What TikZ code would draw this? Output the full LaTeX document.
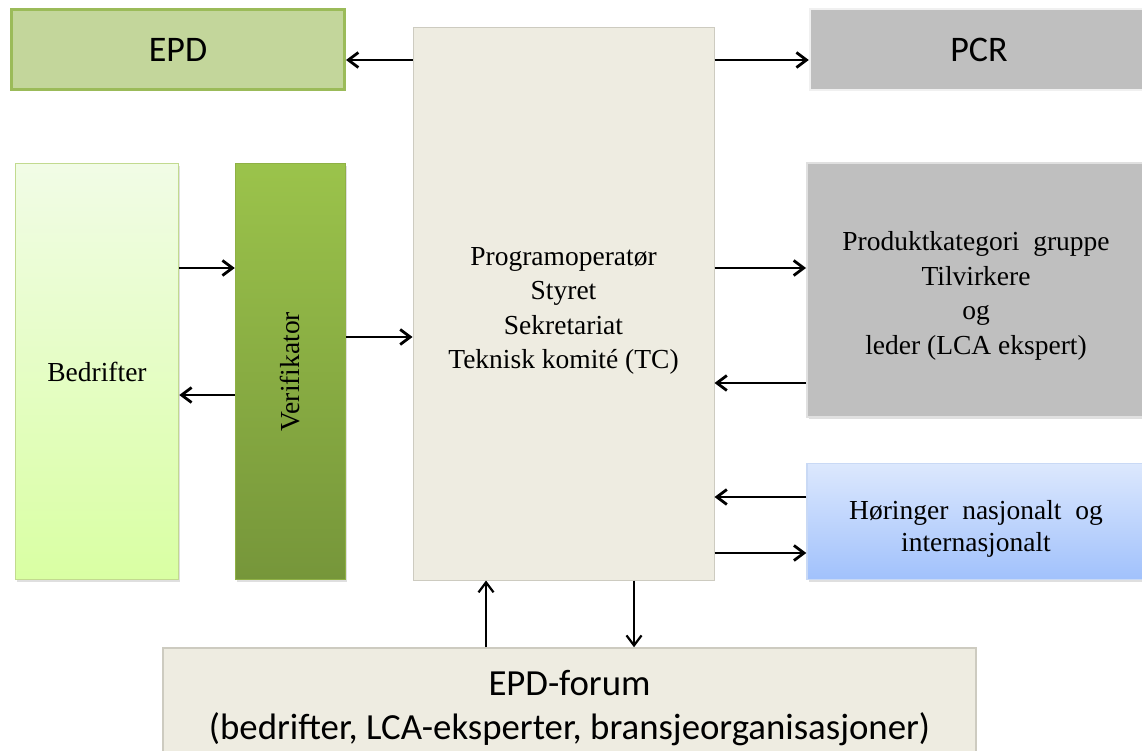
\documentclass[tikz,border=0pt]{standalone}
\usepackage{fontspec}
\usepackage{graphicx}
\setmainfont{Liberation Serif}
\newfontfamily\calibri{Carlito}
\usetikzlibrary{arrows.meta,shadows}

\definecolor{epdfill}{HTML}{C3D69B}
\definecolor{epdline}{HTML}{9BBB59}
\definecolor{progfill}{HTML}{EEECE1}
\definecolor{progline}{HTML}{CDCBC0}
\definecolor{greybox}{HTML}{BFBFBF}
\definecolor{bedtop}{HTML}{F1FCE6}
\definecolor{bedbot}{HTML}{D9FFA3}
\definecolor{bedline}{HTML}{C2DA8F}
\definecolor{vertop}{HTML}{9BC34B}
\definecolor{verbot}{HTML}{76963A}
\definecolor{verline}{HTML}{8FB045}
\definecolor{hortop}{HTML}{DCE8FD}
\definecolor{horbot}{HTML}{A1C1FC}
\definecolor{horline}{HTML}{C9D9F5}

\begin{document}
\begin{tikzpicture}[
    x=1pt, y=-1pt,
    box/.style={rectangle, inner sep=0pt, align=center},
    serif/.style={font=\fontsize{27.5}{34.5}\selectfont},
    sans/.style={font=\calibri\fontsize{36.8}{44}\selectfont},
    shade/.style={drop shadow={opacity=0.25, shadow xshift=1.5pt, shadow yshift=-2.5pt}},
    arr/.style={-{Straight Barb[length=10pt, width=15pt]}, line width=2.8pt},
    ]
    \useasboundingbox (0,0) rectangle (1142,751);

    % Programoperatør i midten
    \node[box, serif, fill=progfill, draw=progline, line width=1pt,
          minimum width=301pt, minimum height=552pt] (prog) at (563.5,304)
          {\rule{0pt}{32pt}Programoperatør\\Styret\\Sekretariat\\Teknisk komité (TC)};

    % EPD og PCR
    \node[box, sans, font=\calibri\fontsize{36}{44}\selectfont, fill=epdfill, draw=epdline,
          line width=3pt, minimum width=333pt, minimum height=80pt] (epd) at (178,49.5) {EPD};
    \node[box, sans, font=\calibri\fontsize{36}{44}\selectfont, fill=greybox, draw=black!6,
          line width=2.5pt, minimum width=338pt, minimum height=81pt] (pcr) at (979,49.5) {PCR};

    % Bedrifter og verifikator
    \node[box, serif, shade, top color=bedtop, bottom color=bedbot, draw=bedline,
          line width=1.5pt, minimum width=163pt, minimum height=416pt] (bed) at (97,371.5) {Bedrifter};
    \node[box, serif, shade, top color=vertop, bottom color=verbot, draw=verline,
          line width=1.5pt, minimum width=110pt, minimum height=416pt] (ver) at (290.5,371.5)
          {\rotatebox{90}{Verifikator}};

    % Produktkategori og høringer
    \node[box, serif, shade, fill=greybox, draw=black!12, line width=2pt,
          minimum width=338pt, minimum height=253pt] (prod) at (976,290)
          {\rule{0pt}{31pt}Produktkategori \ gruppe\\Tilvirkere\\og\\leder (LCA ekspert)};
    \node[box, font=\fontsize{27.5}{32}\selectfont, shade, top color=hortop, bottom color=horbot,
          draw=horline, line width=1.5pt, minimum width=338pt, minimum height=116pt] (hor) at (976,521.5)
          {\rule{0pt}{34pt}Høringer \ nasjonalt \ og\\internasjonalt};

    % EPD-forum
    \node[box, sans, fill=progfill, draw=progline, line width=1.5pt,
          minimum width=813pt, minimum height=120pt] (forum) at (569.5,708)
          {EPD-forum\\(bedrifter, LCA-eksperter, bransjeorganisasjoner)};

    % Piler
    \draw[arr] ([yshift=-10.5pt]prog.west |- epd.east) -- ([yshift=-10.5pt]epd.east);
    \draw[arr] ([yshift=-10.5pt]prog.east |- pcr.west) -- ([yshift=-10.5pt]pcr.west);
    \draw[arr] ([yshift=103.5pt]bed.east) -- ([yshift=103.5pt]ver.west);
    \draw[arr] ([yshift=-23.5pt]ver.west) -- ([yshift=-23.5pt]bed.east);
    \draw[arr] ([yshift=34.5pt]ver.east) -- ([yshift=34.5pt]ver.east -| prog.west);
    \draw[arr] ([yshift=22pt]prod.west -| prog.east) -- ([yshift=22pt]prod.west);
    \draw[arr] ([yshift=-93pt]prod.west) -- ([yshift=-93pt]prod.west -| prog.east);
    \draw[arr] ([yshift=24.5pt]hor.west) -- ([yshift=24.5pt]hor.west -| prog.east);
    \draw[arr] ([yshift=-31.5pt]hor.west -| prog.east) -- ([yshift=-31.5pt]hor.west);
    \draw[arr, line width=2.2pt] ([xshift=-83.5pt]forum.north) -- ([xshift=-83.5pt]forum.north |- prog.south);
    \draw[arr, line width=2.2pt] ([xshift=64.5pt]forum.north |- prog.south) -- ([xshift=64.5pt]forum.north);

\end{tikzpicture}
\end{document}
